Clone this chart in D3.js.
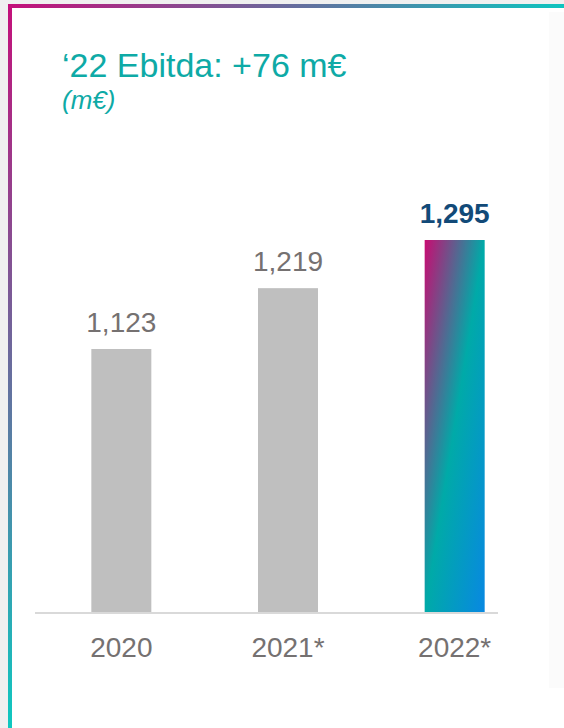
<!DOCTYPE html>
<html>
<head>
<meta charset="utf-8">
<script src="https://cdn.jsdelivr.net/npm/d3@7/dist/d3.min.js"></script>
<style>
  html, body { margin: 0; padding: 0; background: #f0f0f0; }
  svg { display: block; }
</style>
</head>
<body>
<svg id="chart" width="564" height="728"></svg>
<script>
// EBITDA by year (m€)
const categories = ["2020", "2021*", "2022*"];
const values = [1123, 1219, 1295];
const valueLabels = ["1,123", "1,219", "1,295"];
const title = "\u201822 Ebitda: +76 m\u20ac";
const subtitle = "(m\u20ac)";

const W = 564, H = 728;
const FONT = "Liberation Sans, Arial, sans-serif";
const svg = d3.select("#chart");
const defs = svg.append("defs");

// frame gradients
const topGrad = defs.append("linearGradient").attr("id", "topGrad")
  .attr("x1", "0").attr("y1", "0").attr("x2", "1").attr("y2", "0");
topGrad.append("stop").attr("offset", "0").attr("stop-color", "#c4107a");
topGrad.append("stop").attr("offset", "1").attr("stop-color", "#0ec4bf");

const leftGrad = defs.append("linearGradient").attr("id", "leftGrad")
  .attr("x1", "0").attr("y1", "0").attr("x2", "0").attr("y2", "1");
leftGrad.append("stop").attr("offset", "0").attr("stop-color", "#c4107a");
leftGrad.append("stop").attr("offset", "1").attr("stop-color", "#0ec8c0");

// highlighted bar gradient
const barGrad = defs.append("linearGradient").attr("id", "barGrad")
  .attr("x1", "0").attr("y1", "0").attr("x2", "1").attr("y2", "1");
barGrad.append("stop").attr("offset", "0").attr("stop-color", "#c80c72");
barGrad.append("stop").attr("offset", "0.5").attr("stop-color", "#00aaa8");
barGrad.append("stop").attr("offset", "1").attr("stop-color", "#0888e2");

// panel
svg.append("rect").attr("x", 8).attr("y", 4).attr("width", W - 8).attr("height", H - 4)
  .attr("fill", "#ffffff");
svg.append("rect").attr("x", 549).attr("y", 12).attr("width", W - 549).attr("height", 676)
  .attr("fill", "#fbfbfb");
svg.append("rect").attr("x", 8).attr("y", 4).attr("width", W - 8).attr("height", 4)
  .attr("fill", "url(#topGrad)");
svg.append("rect").attr("x", 8).attr("y", 4).attr("width", 4).attr("height", H - 4)
  .attr("fill", "url(#leftGrad)");

// titles
svg.append("text").attr("x", 62).attr("y", 77)
  .attr("font-family", FONT)
  .attr("font-size", 34).attr("fill", "#0eaaa6").text(title);
svg.append("text").attr("x", 62).attr("y", 109)
  .attr("font-family", FONT)
  .attr("font-size", 26).attr("font-style", "italic").attr("fill", "#0eaaa6").text(subtitle);

// scales
const x = d3.scaleBand().domain(categories).range([38, 538]).paddingInner(0.64).paddingOuter(0.32);
const y = d3.scaleLinear().domain([708, 1295]).range([612, 240]);

const g = svg.append("g");

g.selectAll("rect.bar").data(values).join("rect")
  .attr("class", "bar")
  .attr("x", (d, i) => x(categories[i]))
  .attr("y", d => y(d))
  .attr("width", x.bandwidth())
  .attr("height", d => y.range()[0] - y(d))
  .attr("fill", (d, i) => i === values.length - 1 ? "url(#barGrad)" : "#bfbfbf");

// baseline
g.append("line").attr("x1", 35).attr("x2", 498).attr("y1", 613).attr("y2", 613)
  .attr("stroke", "#d9d9d9").attr("stroke-width", 2);

// value labels
g.selectAll("text.val").data(values).join("text")
  .attr("class", "val")
  .attr("x", (d, i) => x(categories[i]) + x.bandwidth() / 2)
  .attr("y", d => y(d) - 17)
  .attr("text-anchor", "middle")
  .attr("font-family", FONT)
  .attr("font-size", 28)
  .attr("font-weight", (d, i) => i === values.length - 1 ? "bold" : "normal")
  .attr("fill", (d, i) => i === values.length - 1 ? "#124a78" : "#757171")
  .text((d, i) => valueLabels[i]);

// category axis
const xAxis = d3.axisBottom(x).tickSize(0).tickPadding(0);
const ax = g.append("g").attr("transform", "translate(0,657)").call(xAxis);
ax.select(".domain").remove();
ax.selectAll("text")
  .attr("dy", 0)
  .attr("font-family", FONT)
  .attr("font-size", 28)
  .attr("fill", "#757171");
</script>
</body>
</html>
